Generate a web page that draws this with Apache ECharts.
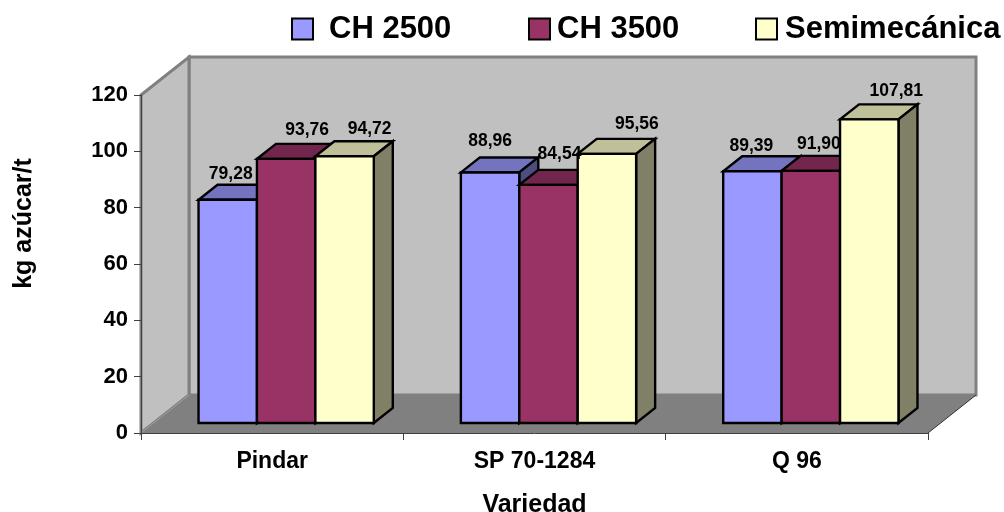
<!DOCTYPE html>
<html><head><meta charset="utf-8">
<style>html,body{margin:0;padding:0;background:#fff}#c{width:1004px;height:512px}</style>
<script src="https://cdn.jsdelivr.net/npm/echarts@6/dist/echarts.min.js"></script>
</head><body><div id="c"></div>
<script>
const categories = ['Pindar', 'SP 70-1284', 'Q 96'];
const seriesNames = ['CH 2500', 'CH 3500', 'Semimecánica'];
// bar heights as drawn in the picture
const ch2500 = [79.28, 88.96, 89.39];
const ch3500 = [93.76, 84.54, 89.5];
const semimecanica = [94.72, 95.56, 107.81];
// value labels as printed in the picture
const ch2500Labels = ['79,28', '88,96', '89,39'];
const ch3500Labels = ['93,76', '84,54', '91,90'];
const semimecanicaLabels = ['94,72', '95,56', '107,81'];
const yTicks = { min: 0, max: 120, interval: 20 };

const allValues = [ch2500, ch3500, semimecanica];
const allLabels = [ch2500Labels, ch3500Labels, semimecanicaLabels];
const faceColors = ['#9999ff', '#993366', '#ffffcc'];
const topColors = ['#7373bf', '#73264d', '#bfbf99'];
const sideColors = ['#4d4d80', '#4d1a33', '#808066'];
// label nudges relative to the bar's top-centre, in pixels, [dx, dy]
const labelNudge = [
  [[3, -26], [21, -29], [25, -27]],
  [[0, -31], [11, -31], [30, -30]],
  [[-1, -25], [8, -27], [27, -28]]
];
const WALL = [48, -38];   // chart depth
const BAR_DEPTH = [19, -15];
const BAR_INSET = [14, -10];
const BAR_RATIO = 0.2227;
const FONT = '"Liberation Sans", Arial, sans-serif';

function barGeom(api, s, cat, val) {
  const w = api.size([1, 0])[0] * BAR_RATIO;
  const base = api.coord([cat, 0]);
  const tip = api.coord([cat, val]);
  const x0 = base[0] - 1.5 * w + s * w + BAR_INSET[0];
  const yb = base[1] + BAR_INSET[1];
  const yt = tip[1] + BAR_INSET[1];
  return { w, x0, yb, yt };
}
function poly(points, fill, z2) {
  return { type: 'polygon', z2: z2, shape: { points },
    style: { fill, stroke: '#000', lineWidth: 2.4, lineJoin: 'miter' }, silent: true };
}
function barRender(s) {
  return function (params, api) {
    const g = barGeom(api, s, api.value(0), api.value(1));
    const x1 = g.x0 + g.w, dx = BAR_DEPTH[0], dy = BAR_DEPTH[1];
    return { type: 'group', children: [
      poly([[g.x0, g.yt], [x1, g.yt], [x1 + dx, g.yt + dy], [g.x0 + dx, g.yt + dy]], topColors[s], 1),
      poly([[x1, g.yt], [x1 + dx, g.yt + dy], [x1 + dx, g.yb + dy], [x1, g.yb]], sideColors[s], 1),
      poly([[g.x0, g.yt], [x1, g.yt], [x1, g.yb], [g.x0, g.yb]], faceColors[s], 2)
    ] };
  };
}
function wallRender(params, api) {
  const c = params.coordSys;
  const l = c.x, r = c.x + c.width, t = c.y, b = c.y + c.height;
  const dx = WALL[0], dy = WALL[1];
  const edge = { stroke: '#808080', lineWidth: 3, lineJoin: 'miter' };
  return { type: 'group', children: [
    { type: 'polygon', shape: { points: [[l + dx, t + dy], [r + dx, t + dy], [r + dx, b + dy], [l + dx, b + dy]] },
      style: Object.assign({ fill: '#c0c0c0' }, edge) },
    { type: 'polygon', shape: { points: [[l, t], [l + dx, t + dy], [l + dx, b + dy], [l, b]] },
      style: Object.assign({ fill: '#c0c0c0' }, edge) },
    { type: 'polygon', shape: { points: [[l, b], [r, b], [r + dx, b + dy], [l + dx, b + dy]] },
      style: { fill: '#808080' } },
    { type: 'line', shape: { x1: r, y1: b, x2: r + dx, y2: b + dy }, style: { stroke: '#333', lineWidth: 1 } },
    { type: 'line', shape: { x1: l, y1: b, x2: l + dx, y2: b + dy }, style: { stroke: '#a0a0a0', lineWidth: 1 } }
  ] };
}
function labelRender(params, api) {
  const s = api.value(2), cat = api.value(0), val = api.value(1);
  const g = barGeom(api, s, cat, val);
  const n = labelNudge[cat][s];
  return { type: 'text', silent: true, style: {
    x: g.x0 + g.w / 2 + n[0], y: g.yt + n[1],
    text: allLabels[s][cat],
    fill: '#000', font: 'bold 17.5px ' + FONT, align: 'center', verticalAlign: 'middle' } };
}

const labelData = [];
allValues.forEach((vals, s) => vals.forEach((v, c) => labelData.push([c, v, s])));

const legendLefts = [291, 528, 755];
const legendGaps = [11, 2, 3];
const series = [
  { type: 'custom', name: 'walls', z: 1, silent: true, clip: false, data: [[0, 0]], encode: { x: 0, y: 1 }, renderItem: wallRender }
];
seriesNames.forEach((name, s) => series.push({
  type: 'custom', name, z: 3 + s, silent: true, clip: false,
  itemStyle: { color: faceColors[s] }, encode: { x: 0, y: 1 },
  data: allValues[s].map((v, c) => [c, v]), renderItem: barRender(s)
}));
series.push({ type: 'custom', name: 'labels', z: 9, silent: true, clip: false, encode: { x: 0, y: 1 }, data: labelData, renderItem: labelRender });

const chart = echarts.init(document.getElementById('c'), null, { renderer: 'canvas' });
chart.setOption({
  animation: false,
  backgroundColor: '#fff',
  legend: seriesNames.map((name, s) => ({
    data: [name], left: legendLefts[s], top: 13.5, padding: 0, icon: 'rect', itemWidth: 21, itemHeight: 21,
    itemGap: 0, selectedMode: false,
    itemStyle: { borderColor: '#000', borderWidth: 2 },
    textStyle: { color: '#000', fontFamily: FONT, fontWeight: 'bold', fontSize: 31, padding: [0, 0, 0, legendGaps[s]] }
  })),
  grid: { left: 141, right: 76, top: 95, bottom: 79, containLabel: false, outerBoundsMode: 'none' },
  xAxis: {
    type: 'category', data: categories, z: 8,
    name: 'Variedad', nameLocation: 'middle', nameGap: 60,
    nameTextStyle: { color: '#000', fontFamily: FONT, fontWeight: 'bold', fontSize: 25 },
    axisLine: { lineStyle: { color: '#404040', width: 1 } },
    axisTick: { show: true, alignWithLabel: false, length: 7, lineStyle: { color: '#404040' } },
    axisLabel: { color: '#000', fontFamily: FONT, fontWeight: 'bold', fontSize: 23, margin: 17, interval: 0 },
    splitLine: { show: false }
  },
  yAxis: {
    type: 'value', min: yTicks.min, max: yTicks.max, interval: yTicks.interval, z: 8,
    name: 'kg azúcar/t', nameLocation: 'middle', nameGap: 104, nameRotate: 90,
    nameTextStyle: { color: '#000', fontFamily: FONT, fontWeight: 'bold', fontSize: 25, padding: [0, 0, 0, 81] },
    axisLine: { show: true, lineStyle: { color: '#404040', width: 1 } },
    axisTick: { show: true, length: 7, lineStyle: { color: '#404040' } },
    axisLabel: { color: '#000', fontFamily: FONT, fontWeight: 'bold', fontSize: 22, margin: 13 },
    splitLine: { show: false }
  },
  series
});
</script></body></html>
